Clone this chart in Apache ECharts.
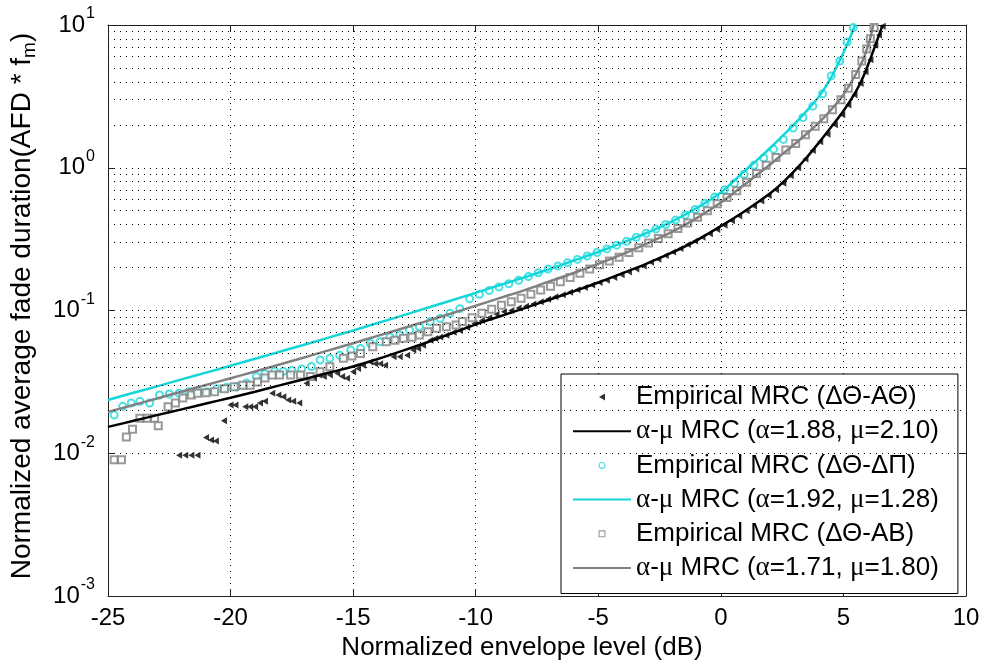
<!DOCTYPE html>
<html>
<head>
<meta charset="utf-8">
<script src="https://cdn.jsdelivr.net/npm/echarts@6/dist/echarts.min.js"></script>
<style>
  html, body { margin: 0; padding: 0; background: #fff; }
  #chart { width: 984px; height: 666px; }
</style>
</head>
<body>
<div id="chart"></div>
<script>
// Axis ticks
const xTicks = [-25, -20, -15, -10, -5, 0, 5, 10];
const yMinor = [
  0.002, 0.003, 0.004, 0.005, 0.006, 0.007, 0.008, 0.009,
  0.02, 0.03, 0.04, 0.05, 0.06, 0.07, 0.08, 0.09,
  0.2, 0.3, 0.4, 0.5, 0.6, 0.7, 0.8, 0.9,
  2, 3, 4, 5, 6, 7, 8, 9
];

// Series names
const nameEmpAT = 'Empirical MRC (ΔΘ-ΑΘ)';
const nameFitAT = 'α-μ MRC (α=1.88, μ=2.10)';
const nameEmpDP = 'Empirical MRC (ΔΘ-ΔΠ)';
const nameFitDP = 'α-μ MRC (α=1.92, μ=1.28)';
const nameEmpAB = 'Empirical MRC (ΔΘ-ΑΒ)';
const nameFitAB = 'α-μ MRC (α=1.71, μ=1.80)';

// Empirical AFD, ΔΘ-ΑΘ (black triangles)
const empATx = [-22.1, -21.85, -21.6, -21.35, -21.0, -20.8, -20.6, -20.27, -20.0, -19.8, -19.4, -19.2, -19.0,
  -18.8, -18.6, -18.3, -18.05, -17.85, -17.65, -17.45, -17.2, -16.9, -16.6, -16.4, -16.2, -15.95, -15.65,
  -15.45, -15.25, -15.0, -14.8, -14.6, -14.3, -14.1, -13.9, -13.7, -13.35, -13.1, -12.8, -12.55, -12.35,
  -12.15, -11.85, -11.65, -11.45, -11.2, -10.9, -10.65, -10.35, -10.05, -9.75, -9.45, -9.15, -8.85, -8.55,
  -8.25, -7.95, -7.65, -7.35, -7.05, -6.75, -6.45, -6.15, -5.85, -5.55, -5.25, -4.95, -4.65, -4.35, -4.05,
  -3.75, -3.45, -3.15, -2.85, -2.55, -2.25, -1.95, -1.65, -1.35, -1.05, -0.75, -0.45, -0.15, 0.15, 0.45,
  0.75, 1.05, 1.35, 1.65, 1.95, 2.25, 2.55, 2.85, 3.15, 3.45, 3.75, 4.05, 4.35, 4.65, 4.95, 5.2, 5.45,
  5.7, 5.9, 6.1, 6.3, 6.45, 6.6];
const empATy = [0.0097, 0.0097, 0.0097, 0.0097, 0.0129, 0.0124, 0.0122, 0.0169, 0.0218, 0.0218, 0.0212, 0.0212, 0.0212,
  0.0225, 0.0231, 0.0263, 0.0256, 0.0249, 0.0236, 0.0231, 0.0225, 0.0309, 0.0335, 0.0354, 0.0345, 0.0354, 0.0363,
  0.0345, 0.0335, 0.0373, 0.0393, 0.0413, 0.0435, 0.0424, 0.0424, 0.0413, 0.0474, 0.0474, 0.0486, 0.0528, 0.0542,
  0.057, 0.062, 0.0637, 0.0653, 0.067, 0.0705, 0.0723, 0.076, 0.081, 0.085, 0.089, 0.094, 0.098, 0.1,
  0.104, 0.107, 0.111, 0.115, 0.12, 0.125, 0.129, 0.134, 0.14, 0.145, 0.151, 0.157, 0.163, 0.17, 0.178,
  0.186, 0.195, 0.205, 0.218, 0.229, 0.243, 0.257, 0.272, 0.29, 0.307, 0.326, 0.345, 0.37, 0.395, 0.425,
  0.46, 0.5, 0.54, 0.585, 0.64, 0.7, 0.78, 0.88, 1.0, 1.15, 1.32, 1.52, 1.72, 2.0, 2.35, 2.75, 3.25,
  3.9, 4.7, 5.7, 7.2, 8.5, 9.8];

// α-μ fit, α=1.88, μ=2.10 (black line)
const fitATx = [-25, -24, -23, -22, -21, -20, -19, -18, -17, -16, -15, -14, -13, -12, -11, -10, -9, -8, -7, -6,
  -5, -4, -3, -2, -1, 0, 1, 2, 2.5, 3, 3.5, 4, 4.5, 5, 5.5, 5.8, 6.1, 6.35, 6.6];
const fitATy = [0.0153, 0.0168, 0.0185, 0.0203, 0.0223, 0.0245, 0.027, 0.0299, 0.033, 0.0366, 0.0405, 0.0457,
  0.0521, 0.0597, 0.0689, 0.08, 0.0912, 0.104, 0.119, 0.136, 0.157, 0.183, 0.214, 0.254, 0.309, 0.39, 0.5,
  0.66, 0.78, 0.95, 1.18, 1.5, 1.93, 2.5, 3.4, 4.3, 5.8, 7.6, 10];

// Empirical AFD, ΔΘ-ΔΠ (cyan circles)
const empDPx = [-24.75, -24.4, -24.05, -23.7, -23.3, -22.9, -22.5, -22.1, -21.7, -21.35, -20.95, -20.55, -20.15,
  -19.75, -19.35, -18.95, -18.6, -18.2, -17.85, -17.5, -17.1, -16.7, -16.35, -15.95, -15.55, -15.1, -14.7,
  -14.3, -13.9, -13.5, -13.1, -12.7, -12.3, -11.85, -11.45, -11.05, -10.65, -10.25, -9.85, -9.45, -9.05,
  -8.65, -8.25, -7.85, -7.45, -7.05, -6.65, -6.25, -5.85, -5.45, -5.05, -4.65, -4.25, -3.85, -3.45, -3.05,
  -2.65, -2.25, -1.85, -1.45, -1.05, -0.65, -0.25, 0.15, 0.55, 0.95, 1.35, 1.75, 2.15, 2.55, 2.95, 3.35,
  3.75, 4.15, 4.5, 4.85, 5.15, 5.4];
const empDPy = [0.0185, 0.0213, 0.0225, 0.0231, 0.0225, 0.0256, 0.026, 0.0263, 0.027, 0.0274, 0.027, 0.0283, 0.029,
  0.0292, 0.031, 0.0345, 0.036, 0.0375, 0.0375, 0.038, 0.039, 0.0405, 0.045, 0.0462, 0.0486, 0.0528, 0.0542,
  0.0589, 0.0605, 0.0653, 0.0673, 0.073, 0.077, 0.0836, 0.088, 0.0955, 0.103, 0.121, 0.13, 0.138, 0.146,
  0.154, 0.163, 0.173, 0.184, 0.195, 0.205, 0.216, 0.228, 0.241, 0.255, 0.27, 0.287, 0.305, 0.326, 0.347,
  0.372, 0.4, 0.43, 0.467, 0.51, 0.565, 0.625, 0.7, 0.78, 0.9, 1.04, 1.17, 1.35, 1.58, 1.9, 2.25,
  2.7, 3.3, 4.4, 5.6, 7.6, 9.6];

// α-μ fit, α=1.92, μ=1.28 (cyan line)
const fitDPx = [-25, -24, -23, -22, -21, -20, -19, -18, -17, -16, -15, -14, -13, -12, -11, -10, -9, -8, -7, -6,
  -5, -4, -3, -2, -1, 0, 1, 1.5, 2, 2.5, 3, 3.5, 4, 4.5, 5, 5.25, 5.47];
const fitDPy = [0.0236, 0.0264, 0.0294, 0.0329, 0.0367, 0.041, 0.0459, 0.0514, 0.0575, 0.0646, 0.0724, 0.0817,
  0.092, 0.104, 0.1175, 0.133, 0.151, 0.171, 0.195, 0.224, 0.257, 0.299, 0.351, 0.419, 0.52, 0.67, 0.96,
  1.14, 1.37, 1.66, 2.02, 2.5, 3.15, 4.3, 6.4, 8.0, 10];

// Empirical AFD, ΔΘ-ΑΒ (grey squares)
const empABx = [-24.75, -24.45, -24.25, -24.0, -23.7, -23.4, -23.1, -22.95, -22.55, -22.25, -21.95, -21.6, -21.35,
  -21.0, -20.65, -20.25, -19.85, -19.5, -19.2, -18.9, -18.6, -18.3, -18.0, -17.55, -17.15, -16.75, -16.35,
  -15.95, -15.4, -15.05, -14.7, -14.2, -13.65, -13.3, -12.95, -12.6, -12.3, -11.95, -11.6, -11.2, -10.8,
  -10.55, -10.15, -9.75, -9.35, -8.95, -8.55, -8.15, -7.75, -7.35, -6.95, -6.55, -6.15, -5.75, -5.35,
  -4.95, -4.55, -4.15, -3.75, -3.35, -2.95, -2.55, -2.15, -1.75, -1.35, -0.95, -0.55, -0.15, 0.25, 0.65,
  1.05, 1.45, 1.85, 2.25, 2.65, 3.05, 3.45, 3.85, 4.2, 4.55, 4.9, 5.2, 5.5, 5.75, 5.95, 6.1, 6.25];
const empABy = [0.009, 0.009, 0.013, 0.0147, 0.0176, 0.0176, 0.0176, 0.0156, 0.0212, 0.0225, 0.0244, 0.0256, 0.0263,
  0.0265, 0.027, 0.0283, 0.0292, 0.03, 0.03, 0.0315, 0.0337, 0.0354, 0.0354, 0.0354, 0.0354, 0.0345, 0.0373,
  0.0403, 0.0462, 0.048, 0.05, 0.0557, 0.0605, 0.062, 0.064, 0.065, 0.0673, 0.071, 0.075, 0.077, 0.079,
  0.0836, 0.089, 0.0955, 0.102, 0.109, 0.115, 0.122, 0.13, 0.139, 0.148, 0.159, 0.17, 0.182, 0.195,
  0.209, 0.222, 0.236, 0.255, 0.275, 0.297, 0.32, 0.345, 0.375, 0.41, 0.45, 0.5, 0.56, 0.62, 0.69,
  0.79, 0.91, 1.04, 1.18, 1.33, 1.48, 1.7, 1.95, 2.2, 2.55, 3.0, 3.6, 4.5, 5.6, 6.8, 8.0, 9.6];

// α-μ fit, α=1.71, μ=1.80 (grey line)
const fitABx = [-25, -24, -23, -22, -21, -20, -19, -18, -17, -16, -15, -14, -13, -12, -11, -10, -9, -8, -7, -6,
  -5, -4, -3, -2, -1, 0, 1, 1.5, 2, 2.5, 3, 3.5, 4, 4.5, 5, 5.5, 5.8, 6.05, 6.22];
const fitABy = [0.0195, 0.0217, 0.0242, 0.027, 0.0301, 0.0335, 0.0374, 0.0419, 0.0469, 0.0526, 0.059, 0.0664,
  0.0748, 0.0843, 0.0953, 0.108, 0.1225, 0.139, 0.16, 0.183, 0.212, 0.248, 0.295, 0.355, 0.442, 0.57, 0.77,
  0.9, 1.05, 1.24, 1.46, 1.73, 2.07, 2.55, 3.25, 4.5, 5.7, 7.6, 10];

const pairs = (xs, ys) => xs.map((x, i) => [x, ys[i]]);

const FONT = "'Liberation Sans', Arial, Helvetica, sans-serif";
const SERIF = "'Liberation Serif', 'Times New Roman', serif";
const CYAN = '#14d6d8';
const CYAN_MK = '#1ad9dc';
const GREY = '#808080';

// Marker shapes (left-pointing triangle, ring, square frame)
const TRI_LEFT = 'path://M0,5 L8.66,0 L8.66,10 Z';
const RING = 'path://M5,0 A5,5 0 1,1 5,10 A5,5 0 1,1 5,0 Z M5,1.6 A3.4,3.4 0 1,0 5,8.4 A3.4,3.4 0 1,0 5,1.6 Z';
const FRAME = 'path://M0,0 L10,0 L10,10 L0,10 Z M1.6,1.6 L1.6,8.4 L8.4,8.4 L8.4,1.6 Z';

const dotted = { color: '#000', width: 1, type: [1, 5] };
const axisLineStyle = { color: '#222', width: 1 };
const hiddenDot = { color: 'rgba(0,0,0,0)', borderWidth: 0 };

const chart = echarts.init(document.getElementById('chart'), null, { renderer: 'canvas' });

const option = {
  animation: false,
  backgroundColor: '#fff',
  textStyle: { fontFamily: FONT },
  grid: { left: 108, top: 25, width: 858, height: 571, containLabel: false },
  xAxis: [
    {
      type: 'value', min: -25, max: 10, interval: 5, position: 'bottom',
      axisLine: { show: true, onZero: false, lineStyle: axisLineStyle },
      axisTick: { show: true, inside: true, length: 7, lineStyle: { color: '#222' } },
      axisLabel: { color: '#000', fontSize: 24, fontFamily: FONT, margin: 10,
        formatter: v => (xTicks.indexOf(v) >= 0 ? String(v) : '') },
      splitLine: { show: true, lineStyle: dotted }
    },
    {
      type: 'value', min: -25, max: 10, interval: 5, position: 'top',
      axisLine: { show: true, onZero: false, lineStyle: axisLineStyle },
      axisTick: { show: true, inside: true, length: 7, lineStyle: { color: '#222' } },
      axisLabel: { show: false },
      splitLine: { show: false }
    }
  ],
  yAxis: [
    {
      type: 'log', logBase: 10, min: 0.001, max: 10, position: 'left',
      axisLine: { show: true, onZero: false, lineStyle: axisLineStyle },
      axisTick: { show: true, inside: true, length: 7, lineStyle: { color: '#222' } },
      axisLabel: {
        color: '#000', margin: 13,
        formatter: v => {
          const e = Math.round(Math.log10(v));
          return '{b|10}{e|' + e + '}';
        },
        rich: {
          b: { fontSize: 24, fontFamily: FONT, color: '#000' },
          e: { fontSize: 16, fontFamily: FONT, color: '#000', padding: [0, 0, 22, 1] }
        }
      },
      splitLine: { show: true, lineStyle: dotted }
    },
    {
      type: 'log', logBase: 10, min: 0.001, max: 10, position: 'right',
      axisLine: { show: true, onZero: false, lineStyle: axisLineStyle },
      axisTick: { show: true, inside: true, length: 7, lineStyle: { color: '#222' } },
      axisLabel: { show: false },
      splitLine: { show: false }
    }
  ],
  legend: {
    orient: 'vertical',
    left: 561, top: 374,
    padding: [10, 19, 12, 11],
    itemWidth: 58, itemHeight: 7, itemGap: 7.7,
    backgroundColor: '#fff', borderColor: '#000', borderWidth: 1,
    selectedMode: false,
    data: [
      { name: nameEmpAT, itemStyle: { borderWidth: 0 } },
      { name: nameFitAT, itemStyle: hiddenDot },
      { name: nameEmpDP, icon: RING, itemStyle: { borderWidth: 0 } },
      { name: nameFitDP, itemStyle: hiddenDot },
      { name: nameEmpAB, icon: FRAME, itemStyle: { borderWidth: 0 } },
      { name: nameFitAB, itemStyle: hiddenDot }
    ],
    formatter: name => name.replace(/([αμ])/g, '{g|$1}'),
    textStyle: {
      fontSize: 26, fontFamily: FONT, color: '#000', lineHeight: 26,
      rich: { g: { fontSize: 27, fontFamily: SERIF, color: '#000', lineHeight: 26 } }
    }
  },
  graphic: [
    {
      type: 'text', x: 522, y: 648,
      style: { text: 'Normalized envelope level (dB)', font: '26px ' + FONT, fill: '#000',
        textAlign: 'center', textVerticalAlign: 'middle' }
    },
    {
      type: 'text', x: 22, y: 306, rotation: Math.PI / 2,
      style: {
        text: 'Normalized average fade duration(AFD * f{s|m})',
        font: '28px ' + FONT, fill: '#000', textAlign: 'center', textVerticalAlign: 'middle',
        rich: { s: { fontSize: 19, fontFamily: FONT, fill: '#000', padding: [16, 0, 0, 0] } }
      }
    }
  ],
  series: [
    {
      name: nameEmpAT, type: 'scatter',
      symbol: TRI_LEFT, symbolSize: 7, symbolKeepAspect: true,
      itemStyle: { color: '#000' },
      data: pairs(empATx, empATy), z: 3
    },
    {
      name: nameFitAT, type: 'line',
      symbol: 'none', smooth: 0.3,
      lineStyle: { color: '#000', width: 2.5 }, itemStyle: { color: '#000' },
      data: pairs(fitATx, fitATy), z: 4,
      markLine: {
        silent: true, symbol: 'none', label: { show: false }, animation: false,
        lineStyle: dotted, emphasis: { disabled: true },
        data: yMinor.map(v => ({ yAxis: v }))
      }
    },
    {
      name: nameEmpDP, type: 'scatter',
      symbol: 'emptyCircle', symbolSize: 7,
      itemStyle: { color: CYAN_MK, borderColor: CYAN_MK, borderWidth: 1.2 },
      data: pairs(empDPx, empDPy), z: 3
    },
    {
      name: nameFitDP, type: 'line',
      symbol: 'none', smooth: 0.3,
      lineStyle: { color: CYAN, width: 2.5 }, itemStyle: { color: CYAN },
      data: pairs(fitDPx, fitDPy), z: 4
    },
    {
      name: nameEmpAB, type: 'scatter',
      symbol: 'emptyRect', symbolSize: 7,
      itemStyle: { color: GREY, borderColor: GREY, borderWidth: 1.2 },
      data: pairs(empABx, empABy), z: 3
    },
    {
      name: nameFitAB, type: 'line',
      symbol: 'none', smooth: 0.3,
      lineStyle: { color: GREY, width: 2.5 }, itemStyle: { color: GREY },
      data: pairs(fitABx, fitABy), z: 4
    }
  ]
};

chart.setOption(option);
</script>
</body>
</html>
